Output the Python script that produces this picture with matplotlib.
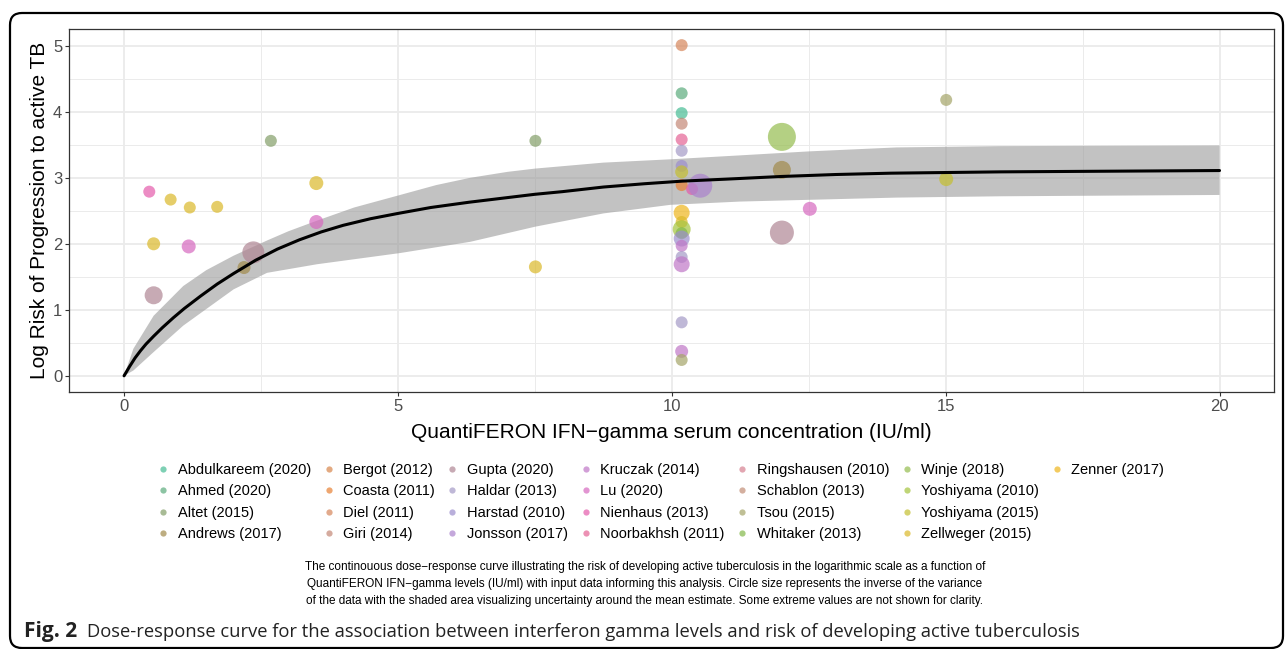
import numpy as np
import matplotlib.pyplot as plt
from matplotlib.lines import Line2D
from matplotlib.patches import FancyBboxPatch
from matplotlib.colors import to_rgb

plt.rcParams['font.family'] = ['Liberation Sans', 'DejaVu Sans']

# studies in legend order, with their colour as seen on white
studies = ["Abdulkareem (2020)", "Ahmed (2020)", "Altet (2015)", "Andrews (2017)",
           "Bergot (2012)", "Coasta (2011)", "Diel (2011)", "Giri (2014)",
           "Gupta (2020)", "Haldar (2013)", "Harstad (2010)", "Jonsson (2017)",
           "Kruczak (2014)", "Lu (2020)", "Nienhaus (2013)", "Noorbakhsh (2011)",
           "Ringshausen (2010)", "Schablon (2013)", "Tsou (2015)", "Whitaker (2013)",
           "Winje (2018)", "Yoshiyama (2010)", "Yoshiyama (2015)", "Zellweger (2015)",
           "Zenner (2017)"]
study_colors = ["#7fd1b5", "#8cc4a4", "#a8bc96", "#beae82",
                "#e4aa82", "#eea670", "#e2aa8c", "#d6aca0",
                "#c8aab4", "#c0b8d8", "#bab0dc", "#c4a8dc",
                "#d2a0d8", "#e296d2", "#ec8cc4", "#ec92b4",
                "#e2a6b2", "#d4b0a0", "#c0c096", "#a8ce80",
                "#b4d084", "#c0d678", "#d6d26e", "#e6ce6a",
                "#f4cc60"]

# data points: IFN-gamma, log risk, circle radius (px), study
pt_x = [0.46, 0.85, 1.20, 1.70, 0.54, 1.18, 0.54, 2.36, 2.19, 2.68, 3.51, 3.51,
        7.51, 7.51,
        10.18, 10.18, 10.18, 10.18, 10.18, 10.18, 10.18, 10.18, 10.18, 10.37, 10.52,
        10.18, 10.18, 10.18, 10.18, 10.18, 10.18, 10.18, 10.18, 10.18, 10.18, 10.18,
        12.01, 12.01, 12.01, 12.52, 15.01, 15.01]
pt_y = [2.79, 2.67, 2.55, 2.56, 2.00, 1.96, 1.22, 1.87, 1.64, 3.56, 2.92, 2.33,
        3.56, 1.65,
        5.01, 4.28, 3.98, 3.82, 3.58, 3.41, 3.18, 3.09, 2.89, 2.83, 2.88,
        2.47, 2.33, 2.22, 2.16, 2.08, 1.97, 1.80, 1.69, 0.81, 0.37, 0.24,
        3.62, 3.12, 2.17, 2.53, 4.18, 2.98]
pt_r = [6, 6, 6, 6, 6.5, 7, 9, 11, 6.5, 6, 7, 7,
        6, 6.5,
        6, 6, 6, 6, 6, 6, 6, 6.5, 6, 6, 12,
        8, 6, 9, 6, 8, 6, 6, 8, 6, 6.5, 6,
        14, 9, 12, 7, 6, 7]
pt_study = ["Nienhaus (2013)", "Zellweger (2015)", "Zellweger (2015)", "Zellweger (2015)",
            "Zellweger (2015)", "Lu (2020)", "Gupta (2020)", "Gupta (2020)", "Andrews (2017)",
            "Altet (2015)", "Zellweger (2015)", "Lu (2020)",
            "Altet (2015)", "Zellweger (2015)",
            "Diel (2011)", "Ahmed (2020)", "Abdulkareem (2020)", "Giri (2014)",
            "Noorbakhsh (2011)", "Haldar (2013)", "Harstad (2010)", "Yoshiyama (2015)",
            "Coasta (2011)", "Nienhaus (2013)", "Jonsson (2017)",
            "Zenner (2017)", "Zellweger (2015)", "Yoshiyama (2010)", "Whitaker (2013)",
            "Harstad (2010)", "Kruczak (2014)", "Haldar (2013)", "Kruczak (2014)",
            "Haldar (2013)", "Kruczak (2014)", "Tsou (2015)",
            "Winje (2018)", "Andrews (2017)", "Gupta (2020)", "Lu (2020)",
            "Tsou (2015)", "Yoshiyama (2015)"]

# mean dose-response curve
curve_x = [0, 0.1, 0.2, 0.3, 0.4, 0.54, 0.7, 0.9, 1.1, 1.4, 1.7, 2.0, 2.4, 2.8, 3.2,
           3.6, 4.0, 4.5, 5.0, 5.6, 6.3, 7.0, 7.5, 8.0, 8.75, 9.5, 10.2, 11.0, 12.0,
           13.0, 14.0, 16.0, 18.0, 20.0]
curve_y = [0, 0.14, 0.27, 0.38, 0.48, 0.6, 0.73, 0.88, 1.02, 1.21, 1.39, 1.55, 1.75,
           1.92, 2.06, 2.18, 2.28, 2.38, 2.46, 2.55, 2.63, 2.70, 2.75, 2.79, 2.86, 2.91,
           2.95, 2.98, 3.02, 3.05, 3.07, 3.09, 3.10, 3.11]
# uncertainty band
band_up_x = [0, 0.17, 0.54, 1.08, 1.5, 2.0, 2.61, 3.0, 3.52, 4.2, 5.04, 5.7, 6.32, 7.0,
             7.51, 8.75, 9.97, 11.25, 12.5, 14.1, 16.0, 20.0]
band_hi = [0, 0.41, 0.91, 1.36, 1.6, 1.82, 2.05, 2.19, 2.35, 2.55, 2.74, 2.89, 3.0, 3.09,
           3.14, 3.23, 3.28, 3.34, 3.40, 3.46, 3.48, 3.49]
band_lo_x = [0, 0.17, 0.54, 1.08, 2.0, 2.61, 3.52, 5.04, 6.32, 7.51, 8.75, 9.97, 11.25,
             14.1, 16.0, 20.0]
band_lo = [0, 0.08, 0.36, 0.76, 1.31, 1.56, 1.69, 1.86, 2.03, 2.26, 2.46, 2.59, 2.64,
           2.70, 2.72, 2.74]

caption = ("The continouous dose\u2212response curve illustrating the risk of developing active "
           "tuberculosis in the logarithmic scale as a function of\n"
           "QuantiFERON IFN\u2212gamma levels (IU/ml) with input data informing this analysis. "
           "Circle size represents the inverse of the variance\n"
           "of the data with the shaded area visualizing uncertainty around the mean estimate. "
           "Some extreme values are not shown for clarity.")
fig_title = ("Dose-response curve for the association between interferon gamma levels "
             "and risk of developing active tuberculosis")

ALPHA = 0.7


def solid(hexcol, a=ALPHA):
    # colour that shows as hexcol on white when drawn with alpha a
    rgb = np.array(to_rgb(hexcol))
    return tuple(np.clip((rgb - (1 - a)) / a, 0, 1))


color_of = dict(zip(studies, study_colors))

fig = plt.figure(figsize=(12.87, 6.49), dpi=100)
ax = fig.add_axes([69.3 / 1287, 1 - 392.3 / 649, 1205 / 1287, 363 / 649])

# band outline: upper edge left to right, lower edge back
poly_x = band_up_x + band_lo_x[::-1]
poly_y = band_hi + band_lo[::-1]
ax.fill(poly_x, poly_y, color="#9a9a9a", alpha=0.6, lw=0, zorder=2)
cols = [solid(color_of[s]) for s in pt_study]
sizes = [(2 * r * 0.72) ** 2 for r in pt_r]
ax.scatter(pt_x, pt_y, s=sizes, c=cols, alpha=ALPHA, lw=0, zorder=3)
ax.plot(curve_x, curve_y, color="black", lw=2.2, zorder=4,
        solid_capstyle="round", solid_joinstyle="round")

ax.set_xticks([0, 5, 10, 15, 20])
ax.set_yticks([0, 1, 2, 3, 4, 5])
ax.set_xticks(np.arange(-2.5, 21, 2.5), minor=True)
ax.set_yticks(np.arange(-0.5, 5.5, 0.5), minor=True)
ax.set_xlim(-1, 21)
ax.set_ylim(-0.25, 5.25)
ax.grid(which="major", color="#ebebeb", lw=1.3, zorder=0)
ax.grid(which="minor", color="#ebebeb", lw=0.7, zorder=0)
ax.set_axisbelow(True)
ax.tick_params(which="major", color="#333333", length=3, width=0.8,
               labelcolor="#4d4d4d", labelsize=12, pad=2)
ax.tick_params(which="minor", length=0)
for sp in ax.spines.values():
    sp.set_color("#333333")
    sp.set_linewidth(0.9)

ax.set_xlabel("QuantiFERON IFN\u2212gamma serum concentration (IU/ml)", fontsize=15, labelpad=6)
ax.set_ylabel("Log Risk of Progression to active TB", fontsize=15, labelpad=3)

# legend: 7 columns of 4, filled down the columns
handles = [Line2D([0], [0], marker="o", ls="", ms=4.5, mew=0, color=solid(c), alpha=ALPHA)
           for c in study_colors]
labels = list(studies)
for _ in range(3):
    handles.append(Line2D([0], [0], ls="", marker=None))
    labels.append("")
fig.legend(handles, labels, ncol=7, loc="center", bbox_to_anchor=(660 / 1287, 1 - 502 / 649),
           frameon=False, fontsize=10.5, handlelength=1.0, handletextpad=0.5,
           columnspacing=0.7, labelspacing=0.52, borderpad=0)

fig.text(645 / 1287, 1 - 584 / 649, caption, ha="center", va="center", fontsize=8.5,
         linespacing=1.58, family=["Liberation Sans", "DejaVu Sans"])

fig.text(24 / 1287, 1 - 632 / 649, "Fig. 2", ha="left", va="center", fontsize=15,
         fontweight="bold", family=["Open Sans", "DejaVu Sans"], color="#222222")
fig.text(87 / 1287, 1 - 632 / 649, fig_title, ha="left", va="center", fontsize=13.2,
         family=["Open Sans", "DejaVu Sans"], color="#222222")

frame = FancyBboxPatch((10, 1), 1273, 635, boxstyle="round,pad=0,rounding_size=12",
                       transform=None, fill=False, ec="black", lw=1.6)
fig.patches.append(frame)

fig.savefig("out.png", dpi=100)
